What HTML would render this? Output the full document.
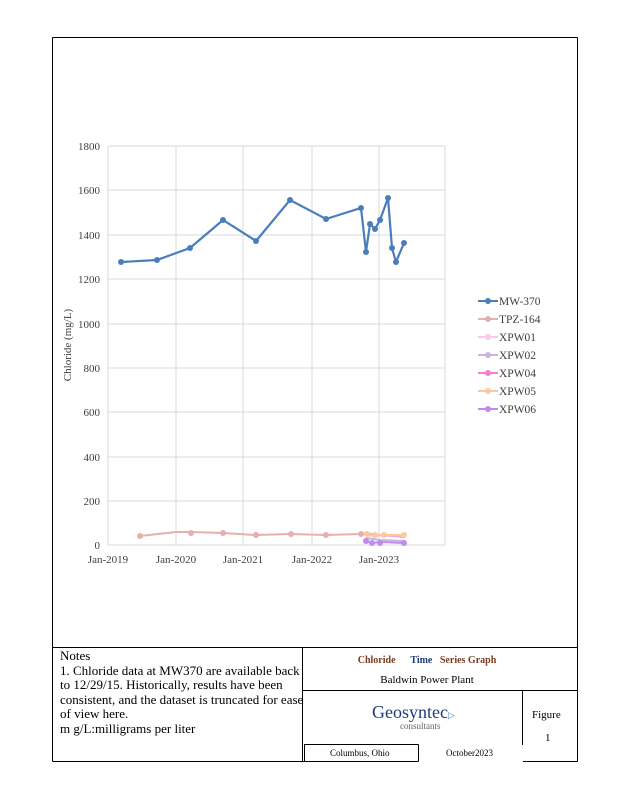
<!DOCTYPE html><html><head><style>
body{margin:0;width:618px;height:800px;background:#fff;font-family:"Liberation Serif",serif;position:relative;overflow:hidden}
.a{position:absolute}
</style></head><body>
<svg class="a" style="left:0;top:0" width="618" height="800" font-family="Liberation Serif" font-size="11" fill="#404040">
<g stroke="#000" stroke-width="1" fill="none">
<line x1="52.5" y1="37.5" x2="577.5" y2="37.5"/>
<line x1="52.5" y1="37.5" x2="52.5" y2="761.5"/>
<line x1="577.5" y1="37.5" x2="577.5" y2="761.5"/>
<line x1="52.5" y1="761.5" x2="418.5" y2="761.5"/>
<line x1="523" y1="761.5" x2="577.5" y2="761.5"/>
<line x1="52" y1="647.5" x2="577" y2="647.5"/>
<line x1="302.5" y1="647" x2="302.5" y2="761"/>
<line x1="302" y1="690.5" x2="577" y2="690.5"/>
<line x1="522.5" y1="690" x2="522.5" y2="745"/>
<line x1="304" y1="744.5" x2="418.5" y2="744.5"/>
<line x1="304.5" y1="744.5" x2="304.5" y2="761.5"/>
<line x1="418.5" y1="744.5" x2="418.5" y2="761.5"/>
</g>
<g stroke="#d9d9d9" stroke-width="1">
<line x1="108" y1="146" x2="445" y2="146"/><line x1="108" y1="190" x2="445" y2="190"/><line x1="108" y1="235" x2="445" y2="235"/><line x1="108" y1="279" x2="445" y2="279"/><line x1="108" y1="324" x2="445" y2="324"/><line x1="108" y1="368" x2="445" y2="368"/><line x1="108" y1="412" x2="445" y2="412"/><line x1="108" y1="457" x2="445" y2="457"/><line x1="108" y1="501" x2="445" y2="501"/>
<line x1="176" y1="146" x2="176" y2="545"/><line x1="243" y1="146" x2="243" y2="545"/><line x1="312" y1="146" x2="312" y2="545"/><line x1="379" y1="146" x2="379" y2="545"/><line x1="445" y1="146" x2="445" y2="545"/>
<line x1="108" y1="146" x2="108" y2="545"/><line x1="108" y1="545" x2="445" y2="545"/>
</g>
<g text-anchor="end"><text x="100" y="150">1800</text><text x="100" y="194">1600</text><text x="100" y="239">1400</text><text x="100" y="283">1200</text><text x="100" y="328">1000</text><text x="100" y="372">800</text><text x="100" y="416">600</text><text x="100" y="461">400</text><text x="100" y="505">200</text><text x="100" y="549">0</text></g>
<g text-anchor="middle"><text x="108" y="563">Jan-2019</text><text x="176" y="563">Jan-2020</text><text x="243" y="563">Jan-2021</text><text x="312" y="563">Jan-2022</text><text x="379" y="563">Jan-2023</text></g>
<text transform="translate(71,345) rotate(-90)" text-anchor="middle">Chloride (mg/L)</text>
<polyline fill="none" stroke="#e6b0b0" stroke-width="2" points="140,536 176,532 190,532 223,533 256,535 290,534 326,535 361,534 368,534 375,535 385,535 404,537"/>
<g fill="#e6b0b0"><circle cx="140" cy="536" r="3"/><circle cx="191" cy="533" r="3"/><circle cx="223" cy="533" r="3"/><circle cx="256" cy="535" r="3"/><circle cx="291" cy="534" r="3"/><circle cx="326" cy="535" r="3"/><circle cx="361" cy="534" r="3"/></g>
<polyline fill="none" stroke="#f7a8d8" stroke-width="2" points="364,533 372,534 380,535 404,537"/>
<polyline fill="none" stroke="#fbc8a0" stroke-width="2" points="366,535 375,536 384,535 404,535"/>
<polyline fill="none" stroke="#c7b6dc" stroke-width="2" points="366,538 380,540 404,541"/>
<polyline fill="none" stroke="#c08af0" stroke-width="2" points="366,541 372,543 380,542 404,543"/>
<g fill="#fbc8a0"><circle cx="367" cy="534" r="3"/><circle cx="375" cy="535" r="3"/><circle cx="384" cy="535" r="3"/><circle cx="404" cy="535" r="3"/></g>
<g fill="#c08af0"><circle cx="366" cy="541" r="3"/><circle cx="372" cy="543" r="3"/><circle cx="380" cy="543" r="3"/><circle cx="404" cy="543" r="3"/></g>
<polyline fill="none" stroke="#4a7ebb" stroke-width="2.2" points="121,262 157,260 190,248 223,220 256,241 290,200 326,219 361,208 366,252 370,224 375,229 380,220 388,198 392,248 396,262 404,243"/>
<g fill="#4a7ebb"><circle cx="121" cy="262" r="3"/><circle cx="157" cy="260" r="3"/><circle cx="190" cy="248" r="3"/><circle cx="223" cy="220" r="3"/><circle cx="256" cy="241" r="3"/><circle cx="290" cy="200" r="3"/><circle cx="326" cy="219" r="3"/><circle cx="361" cy="208" r="3"/><circle cx="366" cy="252" r="3"/><circle cx="370" cy="224" r="3"/><circle cx="375" cy="229" r="3"/><circle cx="380" cy="220" r="3"/><circle cx="388" cy="198" r="3"/><circle cx="392" cy="248" r="3"/><circle cx="396" cy="262" r="3"/><circle cx="404" cy="243" r="3"/></g>
<g font-size="11.5">
<line x1="478" y1="301" x2="498" y2="301" stroke="#4a7ebb" stroke-width="2"/><circle cx="488" cy="301" r="3" fill="#4a7ebb"/><text x="499" y="305">MW-370</text>
<line x1="478" y1="319" x2="498" y2="319" stroke="#e6b0b0" stroke-width="2"/><circle cx="488" cy="319" r="3" fill="#e6b0b0"/><text x="499" y="323">TPZ-164</text>
<line x1="478" y1="337" x2="498" y2="337" stroke="#f8c8f0" stroke-width="2"/><circle cx="488" cy="337" r="3" fill="#f8c8f0"/><text x="499" y="341">XPW01</text>
<line x1="478" y1="355" x2="498" y2="355" stroke="#c7b6dc" stroke-width="2"/><circle cx="488" cy="355" r="3" fill="#c7b6dc"/><text x="499" y="359">XPW02</text>
<line x1="478" y1="373" x2="498" y2="373" stroke="#f77fc8" stroke-width="2"/><circle cx="488" cy="373" r="3" fill="#f77fc8"/><text x="499" y="377">XPW04</text>
<line x1="478" y1="391" x2="498" y2="391" stroke="#fbc8a0" stroke-width="2"/><circle cx="488" cy="391" r="3" fill="#fbc8a0"/><text x="499" y="395">XPW05</text>
<line x1="478" y1="409" x2="498" y2="409" stroke="#c08af0" stroke-width="2"/><circle cx="488" cy="409" r="3" fill="#c08af0"/><text x="499" y="413">XPW06</text>
</g>
</svg>
<div class="a" style="left:60px;top:649px;font-size:13px;line-height:14.5px;color:#000;width:250px">Notes<br>1. Chloride data at MW370 are available back to 12/29/15. Historically, results have been consistent, and the dataset is truncated for ease of view here.<br>m g/L:milligrams per liter</div>
<div class="a" style="left:302px;top:655px;width:250px;text-align:center;font-size:10px;font-weight:bold;color:#1f3a7a"><span style="color:#7a3a1f">Chloride</span> &nbsp;&nbsp;&nbsp;&nbsp; Time &nbsp; <span style="color:#7a3a1f">Series Graph</span></div>
<div class="a" style="left:302px;top:674px;width:250px;text-align:center;font-size:11px">Baldwin Power Plant</div>
<div class="a" style="left:372px;top:702px;font-size:18px;color:#1f3a7a">Geosyntec<span style="font-size:9px;color:#4a7ebb">▷</span></div>
<div class="a" style="left:400px;top:721px;font-size:9px;color:#666">consultants</div>
<div class="a" style="left:532px;top:709px;font-size:11px">Figure</div>
<div class="a" style="left:545px;top:732px;font-size:11px">1</div>
<div class="a" style="left:330px;top:748px;font-size:9px">Columbus, Ohio</div>
<div class="a" style="left:446px;top:748px;font-size:9px">October2023</div>
</body></html>
